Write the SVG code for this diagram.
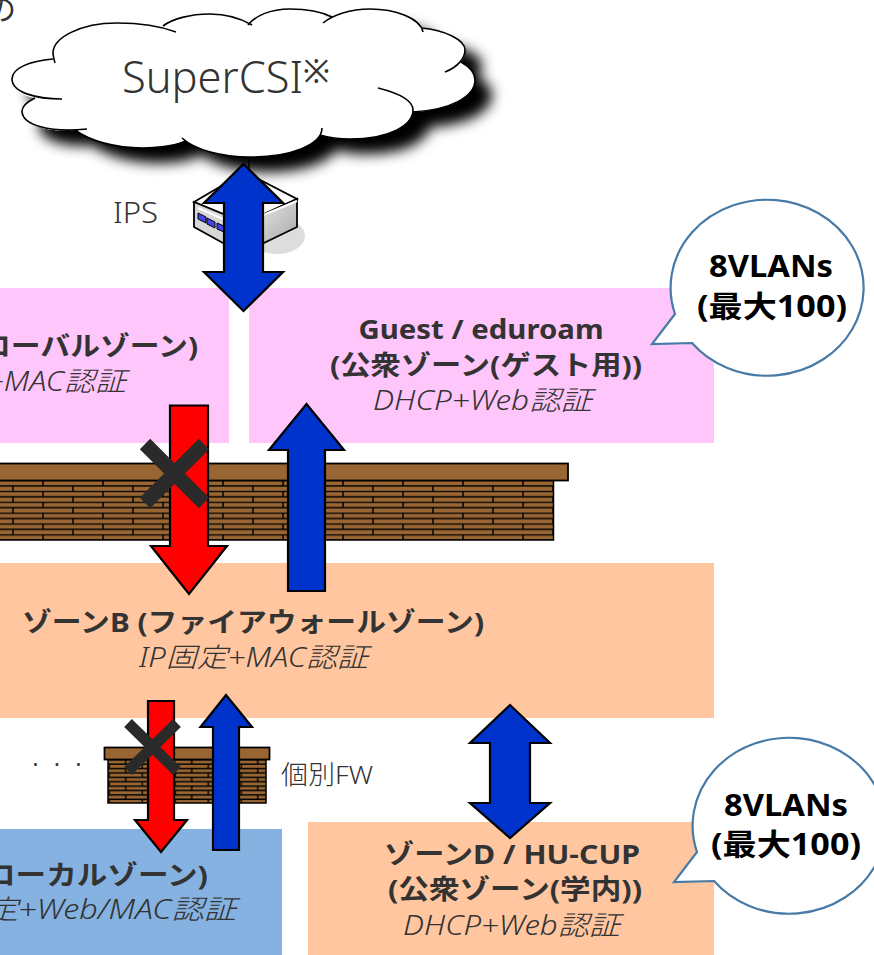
<svg xmlns="http://www.w3.org/2000/svg" width="874" height="955" viewBox="0 0 874 955">
<style>
text{font-family:"Noto Sans","Noto Sans CJK JP",sans-serif;fill:#333}
.t{font-size:27px;font-weight:700}
.i{font-size:27px;font-style:italic;font-weight:300}
.b{font-size:30px;font-weight:700;fill:#000}
.l{font-weight:300}
.bub{fill:#fff;stroke:#487aa7;stroke-width:2.2}
.ar{stroke:#000;stroke-width:2.2;stroke-linejoin:miter}
.blue{fill:#0033cc}.red{fill:#f00}
.x{stroke:#2a2a2a;fill:none}
.cap{fill:#996633;stroke:#000;stroke-width:1.8}
.c{fill:none;stroke:#000;stroke-width:1.6}
</style>
<defs>
<pattern id="bk" width="60" height="10.86" patternUnits="userSpaceOnUse" x="43" y="480">
<rect width="60" height="10.86" fill="#996633"/>
<path d="M0 .4H60M0 5.83H60M0 0V5.43M60 0V5.43M30 5.43V10.86" stroke="#000" stroke-width="1.5"/>
</pattern>
<pattern id="bks" width="33" height="8.8" patternUnits="userSpaceOnUse" x="26.7" y="759">
<rect width="33" height="8.8" fill="#996633"/>
<path d="M0 .7H33M0 5.1H33M0 0V4.4M33 0V4.4M16.500 4.4V8.8" stroke="#000" stroke-width="1.4"/>
</pattern>
<linearGradient id="sw" x1="0" y1="0" x2="1" y2="1"><stop offset="0" stop-color="#f4f4f4"/><stop offset="1" stop-color="#a0a0a0"/></linearGradient>
<filter id="sh" x="-10%" y="-20%" width="130%" height="170%"><feGaussianBlur in="SourceAlpha" stdDeviation="6.500"/><feOffset dx="17" dy="15"/><feMerge><feMergeNode/><feMergeNode in="SourceGraphic"/></feMerge></filter>
</defs>
<g id="zone-global"><rect x="0" y="288" width="229" height="155" fill="#ffc6fb"/>
<text class="t" x="198" y="356" text-anchor="end" textLength="217" lengthAdjust="spacingAndGlyphs">ローバルゾーン)</text>
<text class="i" x="126" y="391" text-anchor="end" textLength="140" lengthAdjust="spacingAndGlyphs">+MAC認証</text></g>
<g id="zone-guest"><rect x="249" y="288" width="465" height="155" fill="#ffc6fb"/>
<text class="t" x="481" y="339" text-anchor="middle" textLength="245" lengthAdjust="spacingAndGlyphs">Guest / eduroam</text>
<text class="t" x="486" y="375" text-anchor="middle" textLength="312" lengthAdjust="spacingAndGlyphs">(公衆ゾーン(ゲスト用))</text>
<text class="i" x="482.500" y="410" text-anchor="middle" textLength="219" lengthAdjust="spacingAndGlyphs">DHCP+Web認証</text></g>
<g id="zone-b"><rect x="0" y="563" width="714" height="155" fill="#ffc6a0"/>
<text class="t" x="253" y="632" text-anchor="middle" textLength="462" lengthAdjust="spacingAndGlyphs">ゾーンB (ファイアウォールゾーン)</text>
<text class="i" x="253.500" y="667" text-anchor="middle" textLength="229" lengthAdjust="spacingAndGlyphs">IP固定+MAC認証</text></g>
<g id="zone-local"><rect x="0" y="829" width="282" height="126" fill="#85b2e0"/>
<text class="t" x="208" y="885" text-anchor="end" textLength="223" lengthAdjust="spacingAndGlyphs">ローカルゾーン)</text>
<text class="i" x="236" y="919" text-anchor="end" textLength="250" lengthAdjust="spacingAndGlyphs">定+Web/MAC認証</text></g>
<g id="zone-d"><rect x="308" y="822" width="406" height="133" fill="#ffc6a0"/>
<text class="t" x="512" y="864" text-anchor="middle" textLength="256" lengthAdjust="spacingAndGlyphs">ゾーンD / HU-CUP</text>
<text class="t" x="515" y="899" text-anchor="middle" textLength="254" lengthAdjust="spacingAndGlyphs">(公衆ゾーン(学内))</text>
<text class="i" x="511.500" y="935" text-anchor="middle" textLength="217" lengthAdjust="spacingAndGlyphs">DHCP+Web認証</text></g>
<text id="clip-note" x="-14" y="20" font-size="30">の</text>
<g id="firewall"><rect x="-4" y="480" width="557.500" height="60" fill="url(#bk)" stroke="#000" stroke-width="1.5"/>
<rect class="cap" x="-4" y="463.500" width="572" height="17"/></g>
<g id="firewall-small"><rect x="108" y="759" width="158" height="44" fill="url(#bks)" stroke="#000" stroke-width="1.5"/>
<rect class="cap" x="104.500" y="747.500" width="165" height="12"/></g>
<g id="ips"><ellipse cx="277" cy="236" rx="28" ry="18" fill="#ddd"/>
<path d="M194 202 245 172 297 199 245 223Z" fill="#fafafa" stroke="#000" stroke-width="1.800"/>
<path d="M194 202V227L223 243 245 252V223Z" fill="#d8d8d8" stroke="#000" stroke-width="1.800"/>
<path d="M297 199V227L245 252V223Z" fill="url(#sw)" stroke="#000" stroke-width="1.800"/>
<path d="M198 208 223 219M263 215 297 201" stroke="#fff" stroke-width="2" fill="none"/>
<path d="M198 213l8 4v6l-8-4zM207 218l8 4v6l-8-4zM217 223l7 3v6l-7-3z" fill="#4444ee" stroke="#000"/></g>
<text id="ips-label" class="l" x="113" y="223" font-size="30" textLength="45" lengthAdjust="spacingAndGlyphs">IPS</text>
<text id="fw-label" class="l" x="281" y="784" font-size="26" textLength="92" lengthAdjust="spacingAndGlyphs">個別FW</text>
<text id="dots" x="32.500 43 54 65 75.500" y="766" font-size="22">. . .</text>
<g id="cloud">
<path filter="url(#sh)" fill="#fff" d="M53 53C53 38 80 23 117 23C140 23 155 25 163 26C172 19 190 14 210 14C225 14 240 18 250 24C255 16 270 9 290 9C305 9 320 11 328 19C333 15 350 9 370 9C395 9 418 18 422 29C445 30 465 40 465 50C465 55 463 59 461 62C470 67 475 73 475 80C475 97 450 110 413 112C410 125 390 139 350 139C340 139 330 138 320 135C310 148 285 157 250 157C222 157 198 150 185 140C175 145 160 148 143 148C115 148 90 141 75 130C50 133 22 125 22 111C22 106 27 102 35 98C20 95 12 88 12 79C12 68 30 61 53 59Z"/>
<path class="c" d="M53 59C30 61 12 68 12 79C12 92 35 99 62 99M35 98C27 102 22 106 22 111C22 125 50 133 87 129M75 130C90 141 115 148 143 148C160 148 175 145 187 142M182 138C195 150 222 157 250 157C290 157 322 145 322 128M320 135C330 138 340 139 350 139C390 139 413 125 413 110C413 100 398 93 378 88M413 112C450 110 475 97 475 80C475 73 470 67 461 62M445 72C458 67 465 58 465 50C465 40 445 30 421 28M423 32C420 18 395 9 370 9C350 9 333 15 323 23M332 17C320 11 305 9 290 9C270 9 255 16 248 25M252 25C240 18 225 14 210 14C190 14 172 19 163 26M176 32C160 26 140 23 117 23C80 23 53 38 53 53C53 56 54 59 55 63"/>
</g>
<text id="cloud-label" class="l" x="122" y="93" font-size="44" textLength="181" lengthAdjust="spacingAndGlyphs">SuperCSI</text>
<text id="cloud-mark" x="303" y="83" font-size="32">※</text>
<g id="connectors">
<path d="M249 157V172" stroke="#000" stroke-width="1.500"/>
<path class="ar blue" d="M243.500 164 283 203H263V272H283L243.500 311 204 272H224V203H204Z"/>
<path class="ar red" d="M170 405.500H208V546H227L189 594 151 546H170Z"/>
<path class="ar blue" d="M306.500 404 344 450H325V591H288V450H269Z"/>
<path class="x" stroke-width="14.600" d="M145 444 204 503M204 444 145 503"/>
<path class="ar red" d="M148 701H174V820H187L161 852 135 820H148Z"/>
<path class="ar blue" d="M226 695 252 727H239V850H213V727H200.500Z"/>
<path class="x" stroke-width="11" d="M128 723 177 771M177 723 128 771"/>
<path class="ar blue" d="M510 705 550 743H530V803H550L510 838 470 803H490V743H470Z"/>
</g>
<g id="note-top"><path class="bub" d="M675 314A96.500 88 0 1 1 692 343L652 344Z"/>
<text class="b" x="771" y="277" text-anchor="middle" textLength="124" lengthAdjust="spacingAndGlyphs">8VLANs</text><text class="b" x="772" y="317" text-anchor="middle" textLength="150" lengthAdjust="spacingAndGlyphs">(最大100)</text></g>
<g id="note-bottom"><path class="bub" d="M697 852A96.500 88 0 1 1 714 881L674 882Z"/>
<text class="b" x="786" y="816" text-anchor="middle" textLength="124" lengthAdjust="spacingAndGlyphs">8VLANs</text><text class="b" x="786" y="855" text-anchor="middle" textLength="150" lengthAdjust="spacingAndGlyphs">(最大100)</text></g>
</svg>
